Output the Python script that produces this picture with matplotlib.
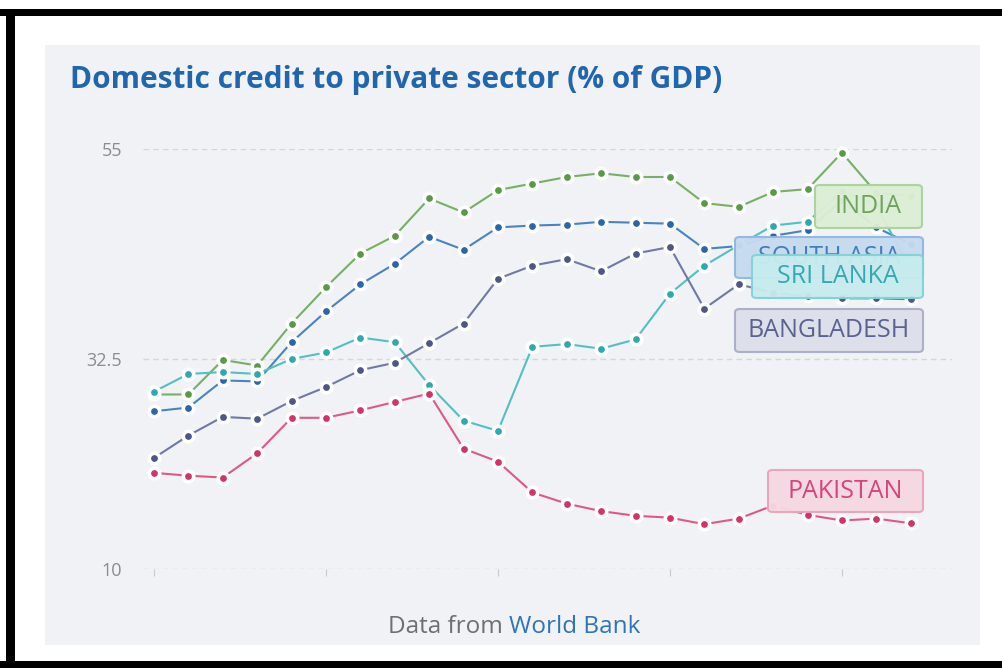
import matplotlib
matplotlib.use("Agg")
import matplotlib.pyplot as plt
from matplotlib.patches import Rectangle, FancyBboxPatch

# World Bank: domestic credit to private sector (% of GDP)
years = list(range(2000, 2023))
india = [28.7, 28.7, 32.4, 31.8, 36.3, 40.2, 43.8, 45.7, 49.7, 48.2, 50.6, 51.3,
         52.0, 52.4, 52.0, 52.0, 49.2, 48.8, 50.4, 50.7, 54.6, 50.3, 50.0]
south_asia = [26.9, 27.3, 30.2, 30.1, 34.3, 37.6, 40.5, 42.7, 45.6, 44.2, 46.6, 46.8,
              46.9, 47.2, 47.1, 47.0, 44.3, 44.6, 45.7, 46.3, 49.5, 46.6, 44.8]
sri_lanka = [29.0, 30.9, 31.1, 30.9, 32.5, 33.2, 34.8, 34.3, 29.7, 25.9, 24.8, 33.8,
             34.1, 33.6, 34.6, 39.5, 42.5, 44.7, 46.8, 47.2, 50.5, 49.0, 42.0]
bangladesh = [21.9, 24.3, 26.3, 26.1, 28.0, 29.5, 31.3, 32.1, 34.2, 36.3, 41.1, 42.5,
              43.2, 41.9, 43.8, 44.5, 37.9, 40.5, 39.6, 39.2, 39.0, 39.0, 38.9]
pakistan = [20.3, 20.0, 19.8, 22.4, 26.2, 26.2, 27.0, 27.9, 28.8, 22.9, 21.5, 18.2,
            17.0, 16.2, 15.7, 15.5, 14.8, 15.4, 16.8, 15.8, 15.2, 15.4, 14.9]

y_ticks = [10, 32.5, 55]
y_tick_labels = ["10", "32.5", "55"]
x_ticks = [2000, 2005, 2010, 2015, 2020]

W, H = 1003, 668
FONT = "Open Sans"


def fx(px):
    return px / W


def fy(py):
    return 1 - py / H


fig = plt.figure(figsize=(W / 100, H / 100), dpi=100)
fig.patch.set_facecolor("white")

# screenshot frame + grey card
fig.patches.append(Rectangle((fx(45), fy(645)), fx(980) - fx(45), fy(45) - fy(645),
                             transform=fig.transFigure, facecolor="#f1f2f6",
                             edgecolor="none", zorder=-2))
for x0, y0, x1, y1 in [(0, 9, 1003, 16), (6, 9, 15, 668), (0, 661, 1003, 668)]:
    fig.patches.append(Rectangle((fx(x0), fy(y1)), fx(x1) - fx(x0), fy(y0) - fy(y1),
                                 transform=fig.transFigure, facecolor="black",
                                 edgecolor="none", zorder=-1))

ax = fig.add_axes([fx(143), fy(569), fx(952) - fx(143), fy(149) - fy(569)])
ax.set_facecolor("none")
ax.set_xlim(1999.68, 2023.2)
ax.set_ylim(10, 55)

for v in y_ticks:
    ax.axhline(v, color="#d3d6dc", lw=1.0, ls=(0, (4, 3)), zorder=0)

series = [
    ("INDIA", india, "#76b063", "#5a9a47"),
    ("SOUTH ASIA", south_asia, "#4884c2", "#2a67a8"),
    ("SRI LANKA", sri_lanka, "#52c0c3", "#2fa9ad"),
    ("BANGLADESH", bangladesh, "#6f79a2", "#4d5684"),
    ("PAKISTAN", pakistan, "#df5886", "#d23369"),
]
for name, vals, lc, mc in series:
    ax.plot(years, vals, color=lc, lw=1.5, marker="o", markersize=7.5,
            markerfacecolor=mc, markeredgecolor="white", markeredgewidth=2.6,
            clip_on=False, zorder=2)

ax.set_yticks(y_ticks)
ax.set_yticklabels(y_tick_labels, fontsize=13, color="#8c8c8c", family=FONT)
ax.tick_params(axis="y", length=0, pad=15)
ax.set_xticks(x_ticks)
ax.set_xticklabels([])
ax.tick_params(axis="x", length=5, width=0.8, color="#c8cad0", direction="out", pad=2)
for s in ax.spines.values():
    s.set_visible(False)

# series labels at the right end
labels = [
    ("INDIA", 815, 185, 922, 228, "#dceed4", "#a9d39b", "#6ea35c"),
    ("SOUTH ASIA", 735, 237, 923, 278, "#c6daef", "#8fb8e2", "#3f7fbf"),
    ("SRI LANKA", 752, 255, 923, 298, "#c7ebee", "#80d3d8", "#36a8b2"),
    ("BANGLADESH", 735, 309, 923, 352, "#dde0ea", "#a9aec6", "#5a628f"),
    ("PAKISTAN", 768, 470, 923, 512, "#f6d8e2", "#eca2b9", "#d8437a"),
]
for i, (txt, x0, y0, x1, y1, fc, ec, tc) in enumerate(labels):
    z = 3 + i
    fig.patches.append(FancyBboxPatch((fx(x0), fy(y1)), fx(x1) - fx(x0), fy(y0) - fy(y1),
                                      boxstyle="round,pad=0,rounding_size=0.005",
                                      transform=fig.transFigure, facecolor=fc,
                                      edgecolor=ec, lw=1.5, alpha=0.96, zorder=z))
    fig.text(fx((x0 + x1) / 2), fy((y0 + y1) / 2), txt, ha="center", va="center",
             fontsize=18, color=tc, family=FONT, zorder=z + 0.5)

fig.text(fx(70), fy(80), "Domestic credit to private sector (% of GDP)", ha="left",
         va="center", fontsize=21.5, fontweight="bold", color="#1f66ae", family=FONT)
fig.text(fx(503), fy(627), "Data from", ha="right", va="center", fontsize=17.5,
         color="#6f6f6f", family=FONT)
fig.text(fx(509), fy(627), "World Bank", ha="left", va="center", fontsize=17.5,
         color="#2f74b5", family=FONT)

fig.savefig("out.png", dpi=100)
